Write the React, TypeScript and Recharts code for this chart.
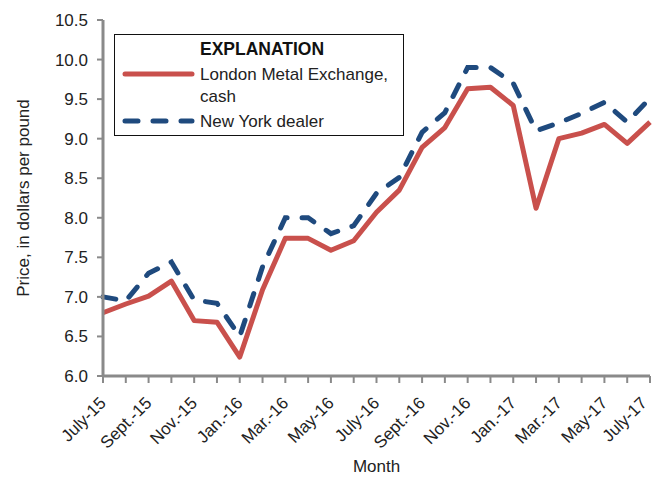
import { Legend, Line, LineChart, XAxis, YAxis } from "recharts";

const months = [
  "July-15", "Aug.-15", "Sept.-15", "Oct.-15", "Nov.-15", "Dec.-15",
  "Jan.-16", "Feb.-16", "Mar.-16", "Apr.-16", "May-16", "June-16",
  "July-16", "Aug.-16", "Sept.-16", "Oct.-16", "Nov.-16", "Dec.-16",
  "Jan.-17", "Feb.-17", "Mar.-17", "Apr.-17", "May-17", "June-17", "July-17",
];
const lme = [
  6.8, 6.91, 7.01, 7.2, 6.7, 6.68, 6.24, 7.09, 7.74, 7.74, 7.59, 7.71,
  8.07, 8.35, 8.89, 9.14, 9.63, 9.65, 9.42, 8.12, 9.0, 9.07, 9.18, 8.94, 9.21,
];
const newYork = [
  7.0, 6.95, 7.3, 7.44, 6.96, 6.92, 6.5, 7.38, 8.0, 8.0, 7.8, 7.9,
  8.31, 8.51, 9.08, 9.33, 9.9, 9.9, 9.7, 9.1, 9.2, 9.32, 9.46, 9.21, 9.51,
];
const yTicks = [6, 6.5, 7, 7.5, 8, 8.5, 9, 9.5, 10, 10.5];

const data = months.map((m, i) => ({ month: m, lme: lme[i], ny: newYork[i] }));

const FONT = "'Liberation Sans', Arial, sans-serif";
const RED = "#c9504c";
const BLUE = "#1f4a7e";
const GRAY = "#8a8a8a";

// only every other month gets a label, but every month gets a tick
const XTick = (props: any) => {
  const { x, y, payload } = props;
  const i = months.indexOf(payload.value);
  if (i % 2 !== 0) return null;
  const ax = Math.min(x + 4, 648);
  const ay = y + 19;
  return (
    <text
      x={ax}
      y={ay}
      transform={`rotate(-45 ${ax} ${ay})`}
      textAnchor="end"
      fontSize={17}
      fontFamily={FONT}
      fill="#222"
    >
      {payload.value}
    </text>
  );
};

const LegendBox = () => (
  <div
    style={{
      width: 290,
      height: 102,
      boxSizing: "border-box",
      border: "1px solid #111",
      background: "#fff",
      position: "relative",
    }}
  >
    <svg width={288} height={100} style={{ position: "absolute", left: 0, top: 0 }}>
      <text x={85} y={20} fontWeight="bold" fontSize={17.5} fontFamily={FONT} fill="#111">
        EXPLANATION
      </text>
      <line x1={10} x2={77} y1={39} y2={39} stroke={RED} strokeWidth={5} strokeLinecap="round" />
      <text x={85} y={45} fontSize={17} fontFamily={FONT} fill="#222">
        London Metal Exchange,
      </text>
      <text x={85} y={67} fontSize={17} fontFamily={FONT} fill="#222">
        cash
      </text>
      <line
        x1={10}
        x2={77}
        y1={86}
        y2={86}
        stroke={BLUE}
        strokeWidth={5}
        strokeLinecap="round"
        strokeDasharray="13 15"
      />
      <text x={85} y={92} fontSize={17} fontFamily={FONT} fill="#222">
        New York dealer
      </text>
    </svg>
  </div>
);

export default function App() {
  return (
    <div style={{ position: "absolute", left: 0, top: 0, width: 652, height: 478, background: "#fff" }}>
      <LineChart width={652} height={478} data={data} margin={{ top: 20, right: 2, left: 0, bottom: 0 }}>
        <XAxis
          dataKey="month"
          interval={0}
          height={102}
          tick={<XTick />}
          tickSize={7}
          tickLine={{ stroke: GRAY, strokeWidth: 2 }}
          axisLine={{ stroke: GRAY, strokeWidth: 3 }}
          label={{ value: "Month", position: "insideBottom", offset: 6, fontSize: 17, fontFamily: FONT, fill: "#222" }}
        />
        <XAxis
          xAxisId="top"
          dataKey="month"
          orientation="top"
          interval={0}
          height={0}
          mirror
          tick={false}
          tickSize={7}
          tickLine={{ stroke: GRAY, strokeWidth: 2 }}
          axisLine={{ stroke: GRAY, strokeWidth: 3 }}
        />
        <YAxis
          domain={[6, 10.5]}
          ticks={yTicks}
          interval={0}
          width={103}
          tickSize={6}
          tickMargin={9}
          tickFormatter={(v: number) => v.toFixed(1)}
          tick={{ fontSize: 17, fontFamily: FONT, fill: "#222" }}
          tickLine={{ stroke: GRAY, strokeWidth: 2 }}
          axisLine={{ stroke: GRAY, strokeWidth: 3 }}
          label={{
            value: "Price, in dollars per pound",
            angle: -90,
            position: "insideLeft",
            dx: 18,
            style: { textAnchor: "middle" },
            fontSize: 17,
            fontFamily: FONT,
            fill: "#222",
          }}
        />
        <YAxis
          yAxisId="right"
          orientation="right"
          domain={[6, 10.5]}
          ticks={yTicks}
          interval={0}
          width={0}
          mirror
          tick={false}
          tickSize={7}
          tickLine={{ stroke: GRAY, strokeWidth: 2 }}
          axisLine={{ stroke: GRAY, strokeWidth: 3 }}
        />
        <Legend
          layout="horizontal"
          verticalAlign="middle"
          align="center"
          content={<LegendBox />}
          wrapperStyle={{ left: 114, top: 34, width: 290, height: 102 }}
        />
        <Line
          dataKey="lme"
          name="London Metal Exchange, cash"
          stroke={RED}
          strokeWidth={5}
          dot={false}
          strokeLinejoin="round"
          isAnimationActive={false}
        />
        <Line
          dataKey="ny"
          name="New York dealer"
          stroke={BLUE}
          strokeWidth={5}
          strokeDasharray="13 15"
          strokeLinecap="round"
          dot={false}
          isAnimationActive={false}
        />
      </LineChart>
    </div>
  );
}
